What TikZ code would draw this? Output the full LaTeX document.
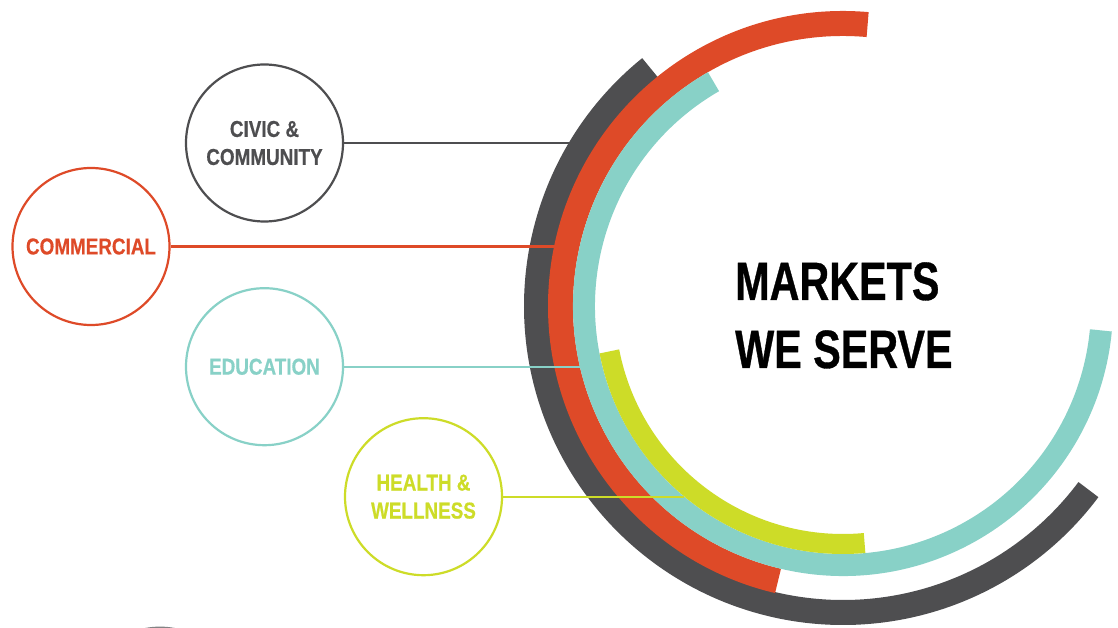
\documentclass[tikz,border=0pt]{standalone}
\usepackage{fontspec}
\newfontfamily\titlefont[FakeStretch=0.765, FakeBold=0.6]{Liberation Sans}
\newfontfamily\labelfont[FakeStretch=0.82, FakeBold=0.5]{Liberation Sans}
\definecolor{mkgray}{RGB}{78,78,80}
\definecolor{mkred}{RGB}{222,74,40}
\definecolor{mkteal}{RGB}{136,209,199}
\definecolor{mklime}{RGB}{205,220,40}
\tikzset{
  band/.style={line cap=butt},
  link/.style={line width=2.4pt},
  market/.style={circle, draw, line width=2.2pt, minimum size=157pt, inner sep=0pt,
    align=center, font={\labelfont\bfseries\fontsize{23}{28}\selectfont}},
  headline/.style={anchor=base west, inner sep=0pt,
    font={\titlefont\bfseries\fontsize{54}{68}\selectfont}}
}
\begin{document}
\begin{tikzpicture}[x=1pt,y=1pt]
\useasboundingbox (0,0) rectangle (1118,627);
\fill[white] (0,0) rectangle (1118,627);

% common centre of the four bands
\coordinate (C) at (843,321);

% concentric bands, outermost first
\draw[band, mkgray, line width=25pt]
  ([shift={(129:306.5)}]C) arc[start angle=129, end angle=323.2, radius=306.5];
\draw[band, mkred, line width=25pt]
  ([shift={(85:282.5)}]C) arc[start angle=85, end angle=256.7, radius=282.5];
\draw[band, mkteal, line width=22pt]
  ([shift={(120:259)}]C) arc[start angle=120, end angle=354.6, radius=259];
\draw[band, mklime, line width=20pt]
  ([shift={(191:238)}]C) arc[start angle=191, end angle=275.2, radius=238];

% market circles
\node[market, mkgray, text=mkgray] (civic) at (264.5,484) {CIVIC \&\\COMMUNITY};
\node[market, mkred, text=mkred] (commercial) at (91,380.5) {COMMERCIAL};
\node[market, mkteal, text=mkteal] (education) at (264.5,260.3) {EDUCATION};
\node[market, mklime, text=mklime] (health) at (423.5,130.3) {HEALTH \&\\WELLNESS};

% where each connector meets its band
\coordinate (civicEnd) at (571,484);
\coordinate (commercialEnd) at (556,380.5);
\coordinate (educationEnd) at (582,260.3);
\coordinate (healthEnd) at (684,130.3);

\draw[link, mkgray] (civic.east) -- (civicEnd);
\draw[link, mkred] (commercial.east) -- (commercialEnd);
\draw[link, mkteal] (education.east) -- (educationEnd);
\draw[link, mklime] (health.east) -- (healthEnd);

% heading
\node[headline] (title1) at (735,327) {MARKETS};
\node[headline] (title2) at (735,259) {WE SERVE};

% edge of a further circle just entering the frame
\begin{scope}
  \clip (0,0) rectangle (1118,627);
  \draw[mkgray!70, line width=2.2pt] (160,-79.7) circle[radius=79];
\end{scope}
\end{tikzpicture}
\end{document}
